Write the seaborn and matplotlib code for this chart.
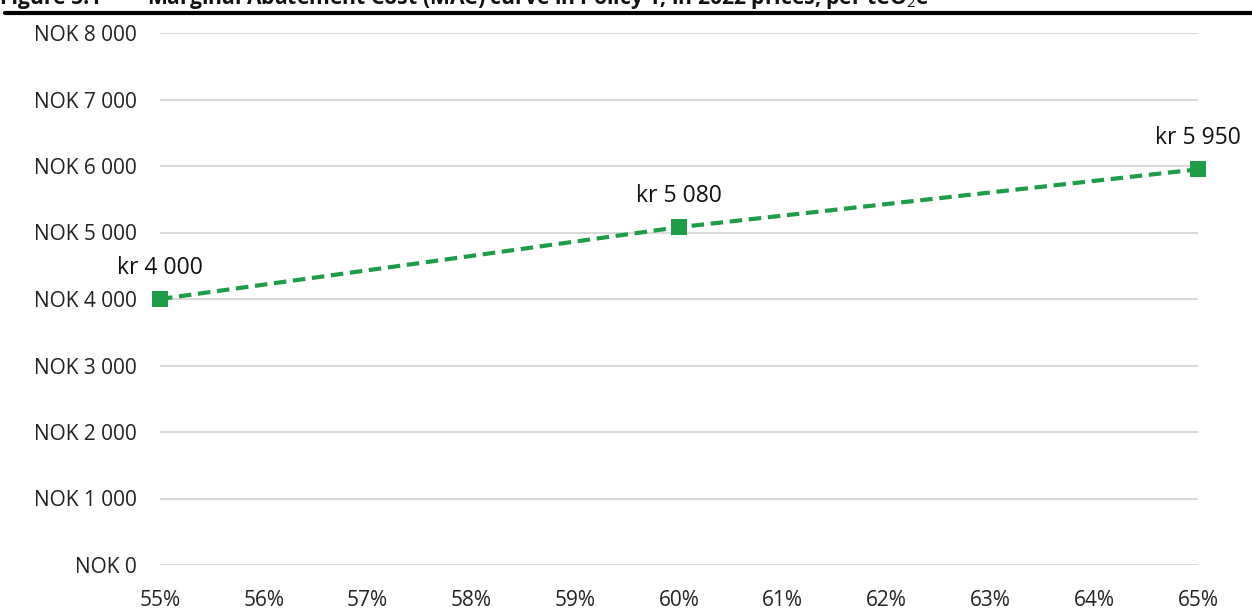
import matplotlib
matplotlib.use("Agg")
import matplotlib.pyplot as plt
import seaborn as sns
import pandas as pd

# Abatement share and marginal cost (NOK per tCO2e, 2022 prices)
abatement_pct = [55, 60, 65]
mac_nok = [4000, 5080, 5950]
point_labels = ["kr 4 000", "kr 5 080", "kr 5 950"]
x_ticks = list(range(55, 66))
y_ticks = list(range(0, 8001, 1000))
fig_number = "Figure 5.1"
title = "Marginal Abatement Cost (MAC) curve in Policy 1, in 2022 prices, per tCO$_2$e"

sns.set_theme(style="white")
plt.rcParams["font.family"] = ["Open Sans", "DejaVu Sans"]
plt.rcParams["mathtext.fontset"] = "custom"
plt.rcParams["mathtext.rm"] = "Open Sans"
plt.rcParams["mathtext.bf"] = "Open Sans:bold"

df = pd.DataFrame({"pct": abatement_pct, "mac": mac_nok})
green = "#1f9c48"

fig = plt.figure(figsize=(12.52, 6.16), dpi=100)
ax = fig.add_axes([160 / 1252, 1 - 565 / 616, (1198 - 160) / 1252, (565 - 33) / 616])

sns.lineplot(data=df, x="pct", y="mac", ax=ax, color=green, linewidth=3,
             linestyle=(0, (3, 1.6)), marker="s", markersize=11,
             markeredgewidth=0, zorder=3, clip_on=False)

ax.set_xlim(55, 65)
ax.set_ylim(0, 8000)
ax.set_xticks(x_ticks)
ax.set_xticklabels([f"{v}%" for v in x_ticks])
ax.set_yticks(y_ticks)
ax.set_yticklabels([f"NOK {v:,}".replace(",", " ") for v in y_ticks])
ax.tick_params(axis="both", labelsize=15, colors="#222222", length=0)
ax.tick_params(axis="x", pad=18)
ax.tick_params(axis="y", pad=17)
ax.set_xlabel("")
ax.set_ylabel("")
ax.grid(axis="y", color="#d9d9d9", linewidth=1.5)
ax.grid(axis="x", visible=False)
for s in ax.spines.values():
    s.set_visible(False)

for x, y, lab in zip(abatement_pct, mac_nok, point_labels):
    ax.annotate(lab, (x, y), xytext=(0, 22.5), textcoords="offset points",
                ha="center", va="center", fontsize=16.5, color="#111111")

# Figure heading (runs off the top edge) and the rule beneath it
fig.text(0 / 1252, 1 - 4 / 616, fig_number, ha="left", va="baseline",
         fontsize=15.2, fontweight="bold", color="#111111")
fig.text(147 / 1252, 1 - 4 / 616, title, ha="left", va="baseline",
         fontsize=15.2, fontweight="bold", color="#111111")
fig.add_artist(plt.Line2D([5 / 1252, 1], [1 - 13 / 616, 1 - 13 / 616],
                          transform=fig.transFigure, color="black", linewidth=3))

fig.savefig("out.png", dpi=100)
